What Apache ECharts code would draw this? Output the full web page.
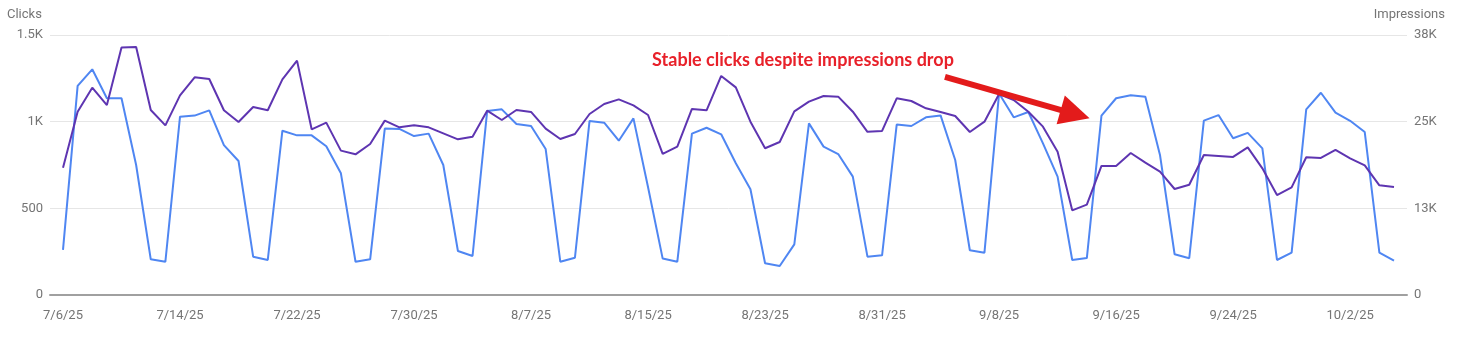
<!DOCTYPE html>
<html><head><meta charset="utf-8">
<script src="https://cdn.jsdelivr.net/npm/echarts@6/dist/echarts.min.js"></script>
<style>html,body{margin:0;padding:0;background:#fff}#c{width:1457px;height:358px}</style>
</head><body><div id="c"></div>
<script>
// x tick labels (every 8th day starting 7/6/25, day index)
const tickDays = [0, 8, 16, 24, 32, 40, 48, 56, 64, 72, 80, 88];
const tickLabels = ['7/6/25','7/14/25','7/22/25','7/30/25','8/7/25','8/15/25','8/23/25','8/31/25','9/8/25','9/16/25','9/24/25','10/2/25'];

// daily clicks (left axis), 7/6/25 .. 10/5/25
const clicks = [260,1206,1302,1135,1135,750,206,192,1029,1035,1065,865,773,221,202,948,921,921,858,702,
  192,206,960,958,917,931,750,254,225,1061,1071,987,975,842,192,215,1004,994,890,1019,
  622,210,192,931,965,927,760,610,183,167,292,990,856,813,683,221,229,983,975,1025,
  1036,779,258,244,1163,1025,1056,875,683,202,213,1035,1135,1152,1144,808,235,212,1006,1038,
  904,935,846,202,244,1071,1167,1052,1005,940,244,198];

// daily impressions (right axis)
const impressions = [18370,26440,29900,27400,35680,35770,26680,24470,28800,31400,31160,26640,24950,27120,26640,31110,33800,23900,24860,20820,
  20290,21780,25150,24180,24470,24180,23320,22450,22840,26590,25240,26680,26400,23990,22500,23220,26110,27550,28220,27360,
  25960,20340,21400,26830,26640,31590,29950,25000,21160,22070,26490,27890,28700,28610,26440,23540,23660,28370,27980,26930,
  26400,25820,23510,25000,28990,28130,26440,24280,20670,12210,13030,18610,18610,20480,19090,17790,15290,15910,20190,20050,
  19910,21300,18270,14420,15530,19860,19760,20920,19710,18700,15820,15580];

// annotation (day index, clicks value)
const annotationText = 'Stable clicks despite impressions drop';
const arrowFrom = [60.3, 1258];
const arrowTo = [69.2, 1044];

const chart = echarts.init(document.getElementById('c'), null, {renderer: 'canvas'});
const grey = '#757575';
chart.setOption({
  animation: false,
  backgroundColor: '#fff',
  grid: {left: 50, right: 50, top: 35, bottom: 63, containLabel: false, outerBoundsMode: 'none'},
  xAxis: {
    type: 'value', min: -0.889, max: 91.889,
    axisLine: {show: true, onZero: true, lineStyle: {color: '#a0a0a0', width: 2}},
    axisTick: {show: false},
    splitLine: {show: false},
    axisLabel: {
      customValues: tickDays,
      formatter: v => tickLabels[tickDays.indexOf(Math.round(v))] || '',
      color: grey, fontSize: 13, fontFamily: 'Roboto', margin: 14
    }
  },
  yAxis: [{
    type: 'value', min: 0, max: 1500, interval: 500,
    axisLine: {show: false}, axisTick: {show: false},
    splitLine: {lineStyle: {color: '#e6e6e6', width: 1}},
    axisLabel: {color: grey, fontSize: 13, fontFamily: 'Roboto', margin: 7,
      formatter: v => v >= 1000 ? (v / 1000) + 'K' : String(v)}
  }, {
    type: 'value', min: 0, max: 37500, interval: 12500, position: 'right',
    axisLine: {show: false}, axisTick: {show: false},
    splitLine: {show: false},
    axisLabel: {color: grey, fontSize: 13, fontFamily: 'Roboto', margin: 7,
      formatter: v => v === 0 ? '0' : Math.round(v / 1000) + 'K'}
  }],
  graphic: [
    {type: 'text', x: 7, y: 8, style: {text: 'Clicks', fill: grey, font: '13px Roboto', textAlign: 'left', textVerticalAlign: 'top'}},
    {type: 'text', x: 1445, y: 8, style: {text: 'Impressions', fill: grey, font: '13px Roboto', textAlign: 'right', textVerticalAlign: 'top'}},
    {type: 'text', x: 803, y: 60, z: 100, style: {text: annotationText, fill: '#e8212a', font: 'bold 18px Lato', textAlign: 'center', textVerticalAlign: 'middle'}}
  ],
  series: [{
    name: 'Clicks', type: 'line', yAxisIndex: 0,
    data: clicks.map((v, i) => [i, v]),
    showSymbol: false, symbol: 'none',
    lineStyle: {color: '#4f86f2', width: 2}, itemStyle: {color: '#4f86f2'},
    z: 2,
    markLine: {
      silent: true, animation: false,
      symbol: ['none', 'triangle'], symbolSize: [30, 30],
      lineStyle: {color: '#e31b1b', width: 6, type: 'solid', opacity: 1},
      itemStyle: {color: '#e31b1b'},
      label: {show: false},
      emphasis: {disabled: true},
      data: [[{coord: arrowFrom}, {coord: arrowTo}]],
      z: 10
    }
  }, {
    name: 'Impressions', type: 'line', yAxisIndex: 1,
    data: impressions.map((v, i) => [i, v]),
    showSymbol: false, symbol: 'none',
    lineStyle: {color: '#5e35b1', width: 2}, itemStyle: {color: '#5e35b1'},
    z: 3
  }]
});
</script></body></html>
